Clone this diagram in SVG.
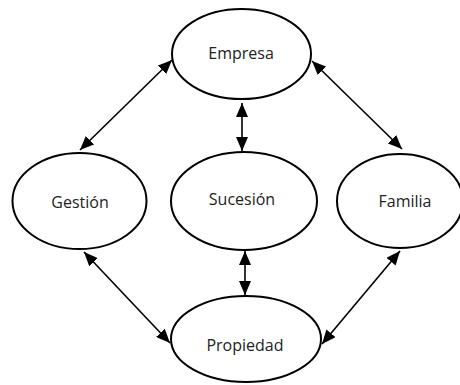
<svg xmlns="http://www.w3.org/2000/svg" width="460" height="385" viewBox="0 0 460 385">
<style>
.node ellipse{fill:#fff;stroke:#000;stroke-width:2}
.node text{font-family:"Open Sans","Liberation Sans",sans-serif;font-size:16px;fill:#222;text-anchor:middle}
.edge line{stroke:#000;stroke-width:1.6;marker-start:url(#ah);marker-end:url(#ah)}
</style>
<defs>
<marker id="ah" markerUnits="userSpaceOnUse" markerWidth="14" markerHeight="12" viewBox="0 0 14 12" refX="14" refY="6" orient="auto-start-reverse">
<path d="M0,0 L14,6 L0,12 z" fill="#000"/>
</marker>
</defs>
<rect width="460" height="385" fill="#fff"/>
<g id="connectors" class="edge">
<line x1="80" y1="150" x2="172" y2="60"/>
<line x1="402" y1="149" x2="312" y2="61"/>
<line x1="242" y1="103" x2="242" y2="151"/>
<line x1="245" y1="251" x2="245" y2="295"/>
<line x1="84" y1="252" x2="170" y2="343"/>
<line x1="400" y1="251" x2="322" y2="344"/>
</g>
<g id="empresa" class="node">
<ellipse cx="241.5" cy="54" rx="69.5" ry="45"/>
<text x="241" y="59">Empresa</text>
</g>
<g id="gestion" class="node">
<ellipse cx="79.5" cy="201" rx="67" ry="48"/>
<text x="80" y="208">Gestión</text>
</g>
<g id="sucesion" class="node">
<ellipse cx="244" cy="201" rx="73" ry="49"/>
<text x="242" y="205">Sucesión</text>
</g>
<g id="familia" class="node">
<ellipse cx="400" cy="201" rx="63" ry="47"/>
<text x="405" y="207">Familia</text>
</g>
<g id="propiedad" class="node">
<ellipse cx="246" cy="339" rx="75" ry="43"/>
<text x="245" y="351">Propiedad</text>
</g>
</svg>
